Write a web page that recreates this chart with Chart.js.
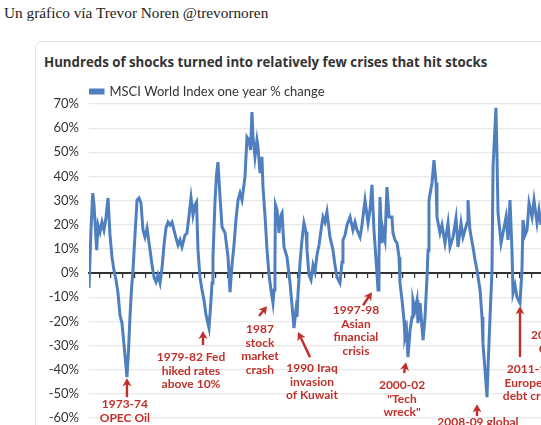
<!DOCTYPE html>
<html lang="en">
<head>
    <meta charset="UTF-8">
    <title>MSCI World Index one year % change</title>
    <script src="https://cdn.jsdelivr.net/npm/chart.js"></script>
    <style>
        html, body { margin: 0; padding: 0; width: 541px; height: 425px; overflow: hidden; background: #fff; }
        .caption { position: absolute; left: 4px; top: 4px; font-family: "Liberation Serif", serif; font-size: 15.3px; color: #222; white-space: nowrap; }
        .card { position: absolute; left: 35px; top: 41px; width: 640px; height: 480px; border: 1px solid #e3e3e3; border-radius: 7px; background: #fff; }
        .card h3 { position: absolute; left: 8px; top: 11px; margin: 0; font-family: "Open Sans", sans-serif; font-weight: 700; font-size: 13.25px; color: #333; white-space: nowrap; }
        #chart { position: absolute; left: 0; top: 34px; }
    </style>
</head>
<body>
    <div class="caption">Un gráfico vía Trevor Noren @trevornoren</div>
    <div class="card">
        <h3>Hundreds of shocks turned into relatively few crises that hit stocks</h3>
        <canvas id="chart" width="600" height="402"></canvas>
    </div>

    <script>
        // serie: ano (decimal) e variação em 12 meses (%)
        const years = [
            1971.00, 1971.19, 1971.36, 1971.48, 1971.74, 1971.87, 1972.06, 1972.25, 1972.44, 1972.63,
            1972.83, 1973.02, 1973.21, 1973.40, 1973.60, 1973.79, 1973.98, 1974.17, 1974.37, 1974.65,
            1974.80, 1974.94, 1975.08, 1975.23, 1975.42, 1975.62, 1975.81, 1976.00, 1976.19, 1976.38,
            1976.58, 1976.87, 1977.06, 1977.25, 1977.44, 1977.63, 1977.83, 1978.02, 1978.21, 1978.40,
            1978.60, 1978.79, 1978.98, 1979.17, 1979.37, 1979.56, 1979.75, 1979.94, 1980.23, 1980.42,
            1980.62, 1980.81, 1981.00, 1981.19, 1981.34, 1981.48, 1981.67, 1981.87, 1982.06, 1982.25,
            1982.54, 1982.73, 1982.83, 1982.92, 1983.12, 1983.26, 1983.40, 1983.60, 1983.79, 1984.08,
            1984.37, 1984.56, 1984.75, 1984.94, 1985.13, 1985.33, 1985.52, 1985.71, 1986.00, 1986.19,
            1986.38, 1986.53, 1986.67, 1986.77, 1986.96, 1987.15, 1987.25, 1987.44, 1987.63, 1987.73,
            1987.92, 1988.12, 1988.31, 1988.50, 1988.69, 1988.79, 1988.88, 1988.93, 1989.08, 1989.27,
            1989.46, 1989.56, 1989.75, 1990.04, 1990.33, 1990.52, 1990.71, 1990.90, 1991.00, 1991.10,
            1991.29, 1991.48, 1991.67, 1991.87, 1991.96, 1992.15, 1992.35, 1992.54, 1992.73, 1992.92,
            1993.12, 1993.31, 1993.50, 1993.69, 1993.88, 1994.17, 1994.46, 1994.65, 1994.85, 1995.13,
            1995.33, 1995.42, 1995.62, 1995.81, 1996.10, 1996.38, 1996.58, 1996.77, 1997.06, 1997.25,
            1997.54, 1997.83, 1998.02, 1998.21, 1998.40, 1998.60, 1998.79, 1998.88, 1998.98, 1999.17,
            1999.27, 1999.46, 1999.65, 1999.85, 2000.13, 2000.23, 2000.42, 2000.62, 2000.81, 2000.90,
            2001.10, 2001.29, 2001.38, 2001.53, 2001.67, 2001.87, 2002.06, 2002.15, 2002.35, 2002.54,
            2002.63, 2002.83, 2003.02, 2003.12, 2003.31, 2003.50, 2003.60, 2003.69, 2003.98, 2004.17,
            2004.37, 2004.46, 2004.75, 2004.94, 2005.23, 2005.52, 2005.71, 2006.00, 2006.29, 2006.48,
            2006.77, 2006.96, 2007.35, 2007.44, 2007.63, 2007.92, 2008.12, 2008.31, 2008.60, 2008.79,
            2008.88, 2009.08, 2009.27, 2009.37, 2009.56, 2009.75, 2009.85, 2010.13, 2010.23, 2010.33,
            2010.62, 2010.81, 2011.10, 2011.29, 2011.48, 2011.67, 2011.77, 2011.96, 2012.15, 2012.44,
            2012.63, 2012.73, 2012.92, 2013.12, 2013.31, 2013.60, 2013.79, 2014.08, 2014.27, 2014.46
        ];
        const pctChange = [
            -6.2, 17.8, 33.1, 28.2, 9.5, 19.9, 17.0, 21.1, 17.8, 22.8,
            31.1, 15.7, 6.6, 1.2, -2.9, -8.3, -17.4, -20.7, -29.8, -43.1,
            -31.9, -18.2, -7.0, 1.2, 15.7, 30.2, 31.1, 29.0, 17.8, 14.9,
            18.6, 9.5, 3.3, -1.7, -3.7, -0.8, -4.1, 2.1, 11.6, 18.6,
            21.1, 19.9, 21.1, 17.8, 14.5, 11.6, 13.7, 10.8, 15.7, 16.6,
            24.0, 31.1, 24.0, 28.2, 29.4, 9.5, -1.7, -7.0, -11.2, -17.4,
            -22.8, -11.2, -4.1, 6.6, 30.2, 40.6, 46.0, 31.5, 19.1, 16.6,
            6.6, -7.9, 3.3, 11.6, 22.0, 30.2, 33.1, 30.2, 39.8, 56.3,
            55.1, 51.0, 66.7, 56.3, 48.1, 55.1, 52.2, 41.4, 48.1, 35.6,
            24.0, 9.5, -0.8, -7.0, -12.4, -7.0, 4.1, 28.2, 26.1, 16.6,
            24.0, 24.9, 10.8, 6.6, -4.1, -13.3, -22.8, -15.3, -18.2, -8.3,
            4.1, 13.7, 20.7, 17.0, 9.5, -0.8, -2.9, 3.3, 0.4, 7.5,
            11.6, 17.8, 23.2, 21.1, 25.3, 14.9, 9.5, 3.3, -1.7, -4.1,
            4.6, 13.7, 15.7, 19.9, 23.2, 17.8, 21.1, 17.8, 14.9, 19.9,
            30.2, 20.7, 26.1, 36.5, 17.8, 5.4, -7.0, 5.4, 31.5, 12.4,
            17.8, 13.7, 35.6, 23.2, 23.2, 16.6, 13.7, 12.4, 6.6, -4.1,
            -11.2, -19.5, -26.5, -23.6, -34.8, -23.6, -18.2, -11.2, -15.3, -11.2,
            -20.7, -12.4, -22.4, -27.8, -18.2, -1.7, 9.5, 30.2, 37.3, 46.8,
            37.3, 23.2, 16.6, 19.9, 12.4, 20.7, 10.8, 14.9, 22.8, 10.8,
            20.7, 14.9, 20.7, 30.2, 17.8, 10.8, 5.4, 1.2, -7.0, -18.2,
            -29.0, -40.2, -51.4, -38.9, -18.2, 1.2, 43.9, 68.4, 48.1, 24.9,
            12.4, 16.6, 23.2, 13.7, 30.2, 9.5, -8.3, -5.0, -9.9, -12.4,
            1.2, 22.0, 15.7, 17.8, 29.0, 23.2, 30.2, 20.7, 26.1, 19.9
        ];
        const seriesLabel = 'MSCI World Index one year % change';

        // eixos
        const yMin = -60, yMax = 70, yStep = 10;
        const xMin = 1971, xMax = 2021;
        const xTickStart = 1972, xTickStep = 1.122;

        // crises: texto, posição do texto (ano, %), seta de -> para (ano, %)
        const crisisLabels = [
            ['1973-74', 'OPEC Oil'],
            ['1979-82 Fed', 'hiked rates', 'above 10%'],
            ['1987', 'stock', 'market', 'crash'],
            ['1990 Iraq', 'invasion', 'of Kuwait'],
            ['1997-98', 'Asian', 'financial', 'crisis'],
            ['2000-02', '"Tech', 'wreck"'],
            ['2008-09 global', 'financial crisis'],
            ['2011-12', 'European', 'debt crisis'],
            ['2015-16', 'China']
        ];
        const crisisTextAt = [
            [1974.45, -54.3], [1980.81, -34.8], [1987.44, -23.2], [1992.44, -39.4], [1996.67, -15.3],
            [2001.10, -46.4], [2008.40, -61.7], [2013.40, -39.8], [2015.72, -25.7]
        ];
        const crisisArrowFrom = [
            [1974.65, -51.4], [1981.96, -29.8], [1987.35, -17.8], [1992.25, -34.8], [1997.35, -13.3],
            [2001.29, -41.4], [2008.31, -59.2], [2012.44, -34.8], [2016.30, -19.5]
        ];
        const crisisArrowTo = [
            [1974.65, -43.5], [1981.96, -24.0], [1988.12, -13.7], [1991.10, -24.4], [1998.21, -7.9],
            [2001.48, -36.9], [2008.31, -54.3], [2012.44, -13.7], [2016.30, -13.0]
        ];

        const BLUE = '#4f7fbf';
        const RED = '#c0302a';

        // desenha os textos e setas vermelhas das crises
        const crisisNotes = {
            id: 'crisisNotes',
            afterDatasetsDraw(chart) {
                const {ctx, scales: {x, y}} = chart;
                ctx.save();
                ctx.fillStyle = RED;
                ctx.strokeStyle = RED;
                ctx.font = 'bold 12px Lato';
                ctx.textAlign = 'center';
                ctx.textBaseline = 'middle';
                crisisLabels.forEach((lines, i) => {
                    const cx = x.getPixelForValue(crisisTextAt[i][0]);
                    const cy = y.getPixelForValue(crisisTextAt[i][1]);
                    lines.forEach((t, k) => ctx.fillText(t, cx, cy + k * 13.6));

                    const x1 = x.getPixelForValue(crisisArrowFrom[i][0]);
                    const y1 = y.getPixelForValue(crisisArrowFrom[i][1]);
                    const x2 = x.getPixelForValue(crisisArrowTo[i][0]);
                    const y2 = y.getPixelForValue(crisisArrowTo[i][1]);
                    const a = Math.atan2(y2 - y1, x2 - x1);
                    ctx.lineWidth = 2.4;
                    ctx.beginPath();
                    ctx.moveTo(x1, y1);
                    ctx.lineTo(x2 - Math.cos(a) * 5, y2 - Math.sin(a) * 5);
                    ctx.stroke();
                    ctx.beginPath();
                    ctx.moveTo(x2, y2);
                    ctx.lineTo(x2 - Math.cos(a) * 8 + Math.sin(a) * 4.5, y2 - Math.sin(a) * 8 - Math.cos(a) * 4.5);
                    ctx.lineTo(x2 - Math.cos(a) * 6, y2 - Math.sin(a) * 6);
                    ctx.lineTo(x2 - Math.cos(a) * 8 - Math.sin(a) * 4.5, y2 - Math.sin(a) * 8 + Math.cos(a) * 4.5);
                    ctx.closePath();
                    ctx.fill();
                });
                ctx.restore();
            }
        };

        Chart.defaults.font.family = 'Lato';
        Chart.defaults.color = '#444';

        new Chart(document.getElementById('chart'), {
            type: 'line',
            data: {
                datasets: [{
                    label: seriesLabel,
                    data: years.map((yr, i) => ({x: yr, y: pctChange[i]})),
                    borderColor: BLUE,
                    backgroundColor: BLUE,
                    borderWidth: 3,
                    pointRadius: 0,
                    tension: 0
                }]
            },
            options: {
                responsive: false,
                animation: false,
                layout: { padding: { left: 11, right: 27, top: 8, bottom: 60 } },
                plugins: {
                    legend: {
                        fullSize: false,
                        align: 'start',
                        maxHeight: 20,
                        labels: {
                            boxWidth: 13,
                            boxHeight: 3,
                            padding: 1,
                            color: '#333',
                            font: { size: 13 }
                        }
                    },
                    tooltip: { enabled: false }
                },
                scales: {
                    x: {
                        type: 'linear',
                        min: xMin,
                        max: xMax,
                        position: { y: 0 },
                        afterFit: axis => { axis.height = 0; },
                        afterBuildTicks: axis => {
                            const t = [];
                            for (let v = xTickStart; v < axis.max; v += xTickStep) t.push({ value: v });
                            axis.ticks = t;
                        },
                        ticks: { display: false },
                        grid: { drawOnChartArea: false, drawTicks: true, tickLength: 4, color: '#333', lineWidth: 1.2 },
                        border: { display: true, color: '#333', width: 2 }
                    },
                    y: {
                        min: yMin,
                        max: yMax,
                        afterFit: axis => { axis.width = 42; },
                        ticks: {
                            stepSize: yStep,
                            padding: 10,
                            color: '#333',
                            font: { size: 13 },
                            callback: v => v + '%'
                        },
                        grid: { drawTicks: false, color: '#e8e8e8', lineWidth: 1.2 },
                        border: { display: false }
                    }
                }
            },
            plugins: [crisisNotes]
        });
    </script>
</body>
</html>
